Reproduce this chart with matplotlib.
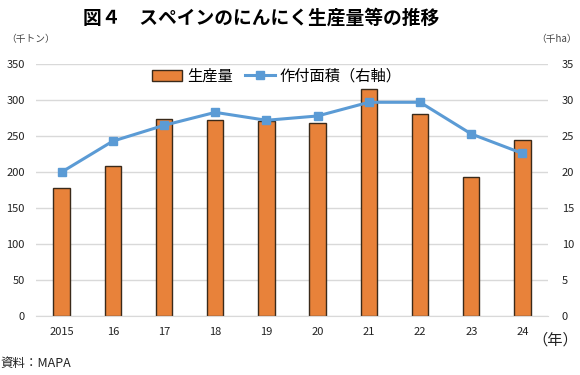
import numpy as np
import matplotlib
matplotlib.use("Agg")
import matplotlib.pyplot as plt

plt.rcParams['font.family'] = ['Noto Sans CJK JP', 'DejaVu Sans']

# data
years = ['2015', '16', '17', '18', '19', '20', '21', '22', '23', '24']
production = [178, 208, 274, 272, 271, 268, 315, 281, 193, 244]   # 千トン
area = [20.0, 24.3, 26.5, 28.3, 27.2, 27.8, 29.7, 29.7, 25.3, 22.6]  # 千ha

fig = plt.figure(figsize=(5.8, 3.75), dpi=100)
ax = fig.add_axes([0.062, 0.157, 0.883, 0.672])
ax2 = ax.twinx()

x = np.arange(len(years))
bars = ax.bar(x, production, width=0.32, color='#E8823A', edgecolor='#3a2a1a',
              linewidth=1.0, label='生産量', zorder=2)
line, = ax2.plot(x, area, color='#5B9BD5', linewidth=2.2, marker='s',
                 markersize=6, label='作付面積（右軸）', zorder=3)

ax.set_ylim(0, 350)
ax.set_yticks(range(0, 351, 50))
ax2.set_ylim(0, 35)
ax2.set_yticks(range(0, 36, 5))
ax.set_xlim(-0.5, len(years) - 0.5)
ax.set_xticks(x)
ax.set_xticklabels(years)

ax.grid(axis='y', color='#d9d9d9', linewidth=1.0, zorder=0)
ax.set_axisbelow(True)
for a in (ax, ax2):
    for s in a.spines.values():
        s.set_visible(False)
    a.tick_params(length=0, labelsize=8, colors='#222222')
ax.spines['bottom'].set_visible(True)
ax.spines['bottom'].set_color('#d9d9d9')
ax.tick_params(axis='x', pad=8)
ax.tick_params(axis='y', pad=8)
ax2.tick_params(axis='y', pad=10)

ax2.legend([bars, line], ['生産量', '作付面積（右軸）'], loc='upper center',
           bbox_to_anchor=(0.47, 1.04), ncol=2, frameon=False, fontsize=11,
           handlelength=2.0, columnspacing=0.8, handletextpad=0.3)

fig.text(0.45, 0.952, '図４　スペインのにんにく生産量等の推移', ha='center', va='center',
         fontsize=13.5, fontweight='bold')
fig.text(0.01, 0.895, '（千トン）', fontsize=7, color='#444444', va='center')
fig.text(0.995, 0.895, '（千ha）', fontsize=7, color='#444444', va='center', ha='right')
fig.text(0.918, 0.093, '（年）', fontsize=11, color='#222222', va='center')
fig.text(0.0, 0.03, '資料：MAPA', fontsize=9, color='#222222', va='center')

fig.savefig('out.png', dpi=100)
